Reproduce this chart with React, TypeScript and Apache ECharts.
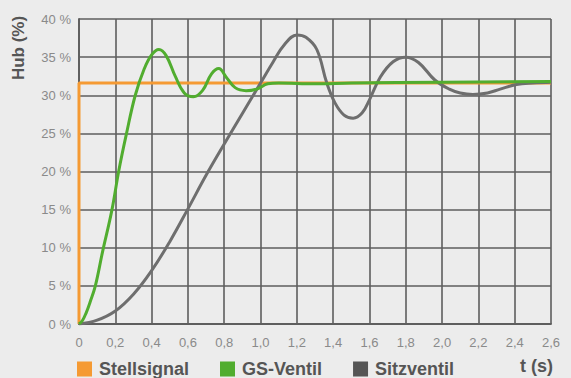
import React, { useEffect, useRef } from "react";
import * as echarts from "echarts";

const xTicks = [0, 0.2, 0.4, 0.6, 0.8, 1.0, 1.2, 1.4, 1.6, 1.8, 2.0, 2.2, 2.4, 2.6];
const yTicks = [0, 5, 10, 15, 20, 25, 30, 35, 40];

const legendNames = ["Stellsignal", "GS-Ventil", "Sitzventil"];

const stellsignal: [number, number][] = [
  [0, 0],
  [0, 31.6],
  [2.6, 31.6],
];

const gsVentil: [number, number][] = [
  [0, 0], [0.02, 0.5], [0.04, 1.5], [0.06, 2.8], [0.09, 5], [0.13, 9.5],
  [0.18, 14.8], [0.22, 20.2], [0.26, 24.8], [0.31, 30], [0.36, 33.5],
  [0.4, 35.3], [0.44, 36.0], [0.48, 35.2], [0.53, 32.5], [0.58, 30.3],
  [0.63, 29.8], [0.68, 30.6], [0.73, 32.8], [0.77, 33.5], [0.81, 32.4],
  [0.86, 31.0], [0.92, 30.6], [0.98, 30.8], [1.04, 31.5], [1.1, 31.6],
  [1.3, 31.5], [1.5, 31.6], [2.0, 31.7], [2.6, 31.8],
];

const sitzventil: [number, number][] = [
  [0, 0], [0.1, 0.5], [0.2, 1.7], [0.3, 3.9], [0.4, 7.0], [0.5, 10.8],
  [0.6, 15.1], [0.7, 19.5], [0.8, 23.6], [0.9, 27.6], [1.0, 31.6],
  [1.07, 34.4], [1.13, 36.6], [1.2, 37.9], [1.25, 37.6], [1.31, 36.0],
  [1.365, 31.6], [1.41, 29.0], [1.46, 27.4], [1.51, 27.0], [1.56, 27.7],
  [1.6, 29.4], [1.66, 32.4], [1.73, 34.4], [1.8, 35.0], [1.87, 34.3],
  [1.96, 32.0], [2.04, 30.8], [2.1, 30.3], [2.17, 30.1], [2.25, 30.3],
  [2.32, 30.8], [2.41, 31.4], [2.5, 31.6], [2.6, 31.7],
];

const colors = ["#f59a33", "#51ad2f", "#6e6e6e"];
const legendColors = ["#f59a33", "#51ad2f", "#555555"];

export default function App() {
  const ref = useRef<HTMLDivElement>(null);
  useEffect(() => {
    if (!ref.current) return;
    const chart = echarts.init(ref.current, null, { renderer: "svg" });
    const font = "'Liberation Sans', Arial, Helvetica, sans-serif";
    const gridLine = { show: true, lineStyle: { color: "#5e5e5e", width: 1.6 } };
    chart.setOption({
      animation: false,
      backgroundColor: "#ececec",
      textStyle: { fontFamily: font },
      grid: { left: 79, right: 20, top: 19, bottom: 54, containLabel: false },
      xAxis: {
        type: "value",
        min: xTicks[0],
        max: xTicks[xTicks.length - 1],
        interval: 0.2,
        axisLine: { show: true, lineStyle: { color: "#5e5e5e", width: 1.8 } },
        axisTick: { show: false },
        splitLine: gridLine,
        axisLabel: {
          color: "#8a8a8a",
          fontSize: 13,
          margin: 12,
          fontFamily: font,
          formatter: (v: number) => (v === 0 ? "0" : v.toFixed(1).replace(".", ",")),
        },
      },
      yAxis: {
        type: "value",
        min: yTicks[0],
        max: yTicks[yTicks.length - 1],
        interval: 5,
        axisLine: { show: true, lineStyle: { color: "#5e5e5e", width: 1.8 } },
        axisTick: { show: false },
        splitLine: gridLine,
        axisLabel: {
          color: "#8a8a8a",
          fontSize: 13,
          margin: 8,
          fontFamily: font,
          formatter: (v: number) => `${v} %`,
        },
      },
      legend: {
        data: legendNames.map((n, i) => ({ name: n, itemStyle: { color: legendColors[i] } })),
        left: 77,
        top: 360,
        padding: 0,
        icon: "rect",
        itemWidth: 15,
        itemHeight: 15,
        itemGap: 31,
        textStyle: {
          color: "#555555",
          fontSize: 18,
          fontWeight: "bold",
          fontFamily: font,
          lineHeight: 18,
          padding: [0, 0, 0, 2],
        },
        selectedMode: false,
      },
      graphic: [
        {
          type: "text",
          x: 553,
          y: 366,
          style: {
            text: "t (s)",
            align: "right",
            verticalAlign: "middle",
            fill: "#555555",
            fontSize: 18,
            fontWeight: "bold",
            fontFamily: font,
          },
        },
        {
          type: "text",
          x: 18,
          y: 48,
          rotation: Math.PI / 2,
          style: {
            text: "Hub (%)",
            align: "center",
            verticalAlign: "middle",
            fill: "#555555",
            fontSize: 17,
            fontWeight: "bold",
            fontFamily: font,
          },
        },
      ],
      series: [
        {
          name: legendNames[0],
          type: "line",
          data: stellsignal,
          showSymbol: false,
          lineStyle: { color: colors[0], width: 3 },
          itemStyle: { color: colors[0] },
          z: 2,
        },
        {
          name: legendNames[1],
          type: "line",
          data: gsVentil,
          smooth: 0.4,
          showSymbol: false,
          lineStyle: { color: colors[1], width: 3 },
          itemStyle: { color: colors[1] },
          z: 4,
        },
        {
          name: legendNames[2],
          type: "line",
          data: sitzventil,
          smooth: 0.4,
          showSymbol: false,
          lineStyle: { color: colors[2], width: 3 },
          itemStyle: { color: colors[2] },
          z: 3,
        },
      ],
    });
    return () => chart.dispose();
  }, []);
  return (
    <div
      ref={ref}
      style={{ position: "absolute", left: 0, top: 0, width: 571, height: 378 }}
    />
  );
}
